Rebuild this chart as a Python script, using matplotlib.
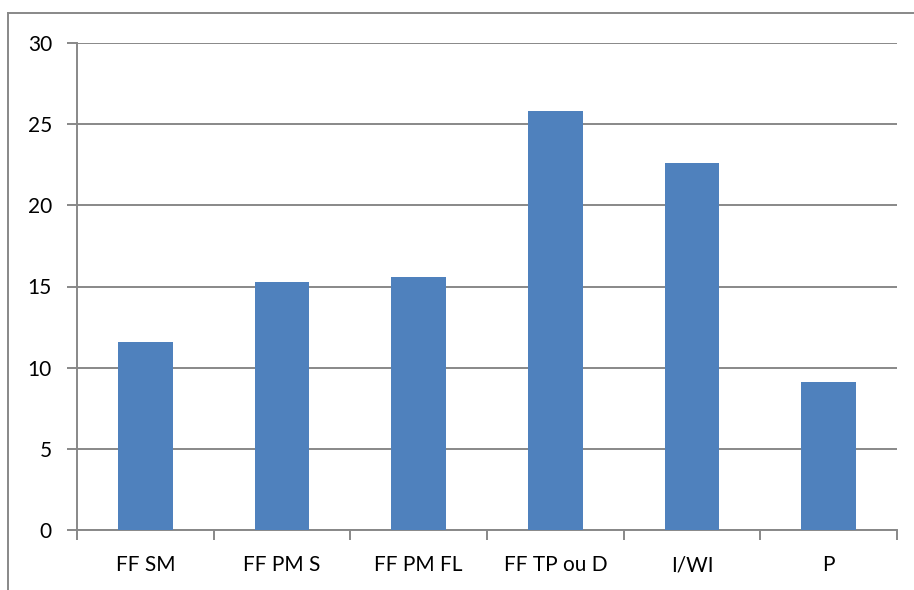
import matplotlib
matplotlib.use("Agg")
import matplotlib.pyplot as plt
from matplotlib.lines import Line2D

categories = ["FF SM", "FF PM S", "FF PM FL", "FF TP ou D", "I/WI", "P"]
values = [11.6, 15.3, 15.6, 25.8, 22.6, 9.1]
yticks = [0, 5, 10, 15, 20, 25, 30]

W, H = 914, 590
fig = plt.figure(figsize=(W / 100, H / 100), dpi=100)
plt.rcParams['font.family'] = ['Lato', 'DejaVu Sans']

ax = fig.add_axes([77 / W, (H - 530) / H, (897 - 77) / W, (530 - 43) / H])
gray = "#888888"

x = list(range(len(categories)))
ax.bar(x, values, width=0.4, color="#4F81BD", zorder=3)
ax.set_xlim(-0.5, len(categories) - 0.5)
ax.set_ylim(0, 30)
ax.set_yticks(yticks)
ax.set_yticklabels([str(v) for v in yticks])
ax.set_xticks(x)
ax.set_xticklabels(categories)
ax.set_xticks([i - 0.5 for i in range(len(categories) + 1)], minor=True)

ax.yaxis.grid(True, color=gray, linewidth=1.4, zorder=0)
ax.xaxis.grid(False)
for s in ["top", "right"]:
    ax.spines[s].set_visible(False)
for s in ["left", "bottom"]:
    ax.spines[s].set_color(gray)
    ax.spines[s].set_linewidth(1.4)

ax.tick_params(axis="y", length=7, width=1.4, color=gray, labelsize=15, pad=11, labelcolor="black")
ax.tick_params(axis="x", which="major", length=0, labelsize=15, pad=18, labelcolor="black")
ax.tick_params(axis="x", which="minor", length=7, width=1.4, color=gray)

# outer chart border (left and top)
fig.add_artist(Line2D([8 / W, 8 / W], [0, 1 - 13 / H], transform=fig.transFigure, color=gray, linewidth=1.4))
fig.add_artist(Line2D([8 / W, 1], [1 - 13 / H, 1 - 13 / H], transform=fig.transFigure, color=gray, linewidth=1.4))

fig.savefig("out.png", dpi=100, facecolor="white")
